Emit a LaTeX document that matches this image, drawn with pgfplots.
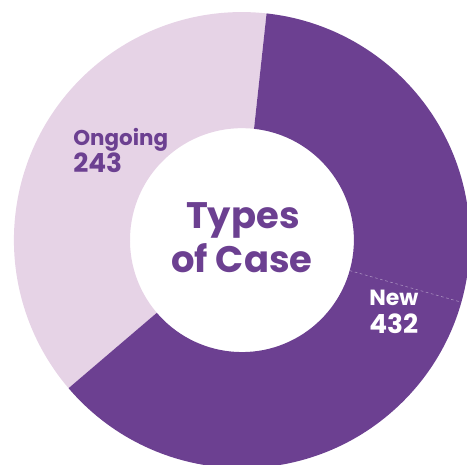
\documentclass[border=0pt]{standalone}
\usepackage{pgfplots}
\pgfplotsset{compat=1.18}
\usepackage{fontspec}
\setmainfont{Poppins}
\definecolor{darkp}{RGB}{108,64,145}
\definecolor{lightp}{RGB}{230,211,230}
% data: category, value, start angle, end angle (angles)
\def\OngoingVal{243}
\def\NewVal{432}
\def\aA{83.8}   % boundary Ongoing/New (top)
\def\aB{220.5}  % boundary Ongoing/New (bottom left)
\def\aD{344.2}  % dashed separator inside New
\def\rin{0.491}
\begin{document}
\begin{tikzpicture}
\begin{axis}[
  x=4.56cm, y=4.56cm,
  xmin=-1.061, xmax=0.987, ymin=-0.982, ymax=1.053,
  hide axis, clip=true, scale only axis,
]
% Ongoing wedge
\fill[lightp] (axis cs:{cos(\aA)},{sin(\aA)}) arc[start angle=\aA, end angle=\aB, radius=4.56cm]
  -- (axis cs:{\rin*cos(\aB)},{\rin*sin(\aB)}) arc[start angle=\aB, end angle=\aA, radius=\rin*4.56cm] -- cycle;
% New wedge
\fill[darkp] (axis cs:{cos(\aB)},{sin(\aB)}) arc[start angle=\aB, end angle=\aA+360, radius=4.56cm]
  -- (axis cs:{\rin*cos(\aA)},{\rin*sin(\aA)}) arc[start angle=\aA+360, end angle=\aB, radius=\rin*4.56cm] -- cycle;
\draw[white!45!darkp, line width=0.3pt, dash pattern=on 1.5pt off 1.5pt]
  (axis cs:{\rin*cos(\aD)},{\rin*sin(\aD)}) -- (axis cs:{cos(\aD)},{sin(\aD)});
% labels
\node[anchor=base west, inner sep=0pt, text=darkp, font=\fontsize{12.2}{14}\selectfont\bfseries] at (axis cs:-0.741,0.417) {Ongoing};
\node[anchor=base west, inner sep=0pt, text=darkp, font=\fontsize{15}{17}\selectfont\bfseries] at (axis cs:-0.741,0.298) {\OngoingVal};
\node[anchor=base west, inner sep=0pt, text=white, font=\fontsize{12.5}{14}\selectfont\bfseries] at (axis cs:0.557,-0.285) {New};
\node[anchor=base west, inner sep=0pt, text=white, font=\fontsize{15}{17}\selectfont\bfseries] at (axis cs:0.557,-0.408) {\NewVal};
\node[anchor=base, inner sep=0pt, text=darkp, font=\fontsize{21}{24}\selectfont\bfseries] at (axis cs:0.004,0.053) {Types};
\node[anchor=base, inner sep=0pt, text=darkp, font=\fontsize{21}{24}\selectfont\bfseries] at (axis cs:0.0,-0.140) {of Case};
\end{axis}
\pgfresetboundingbox
\path (current axis.south west) rectangle (current axis.north east);
\end{tikzpicture}
\end{document}
